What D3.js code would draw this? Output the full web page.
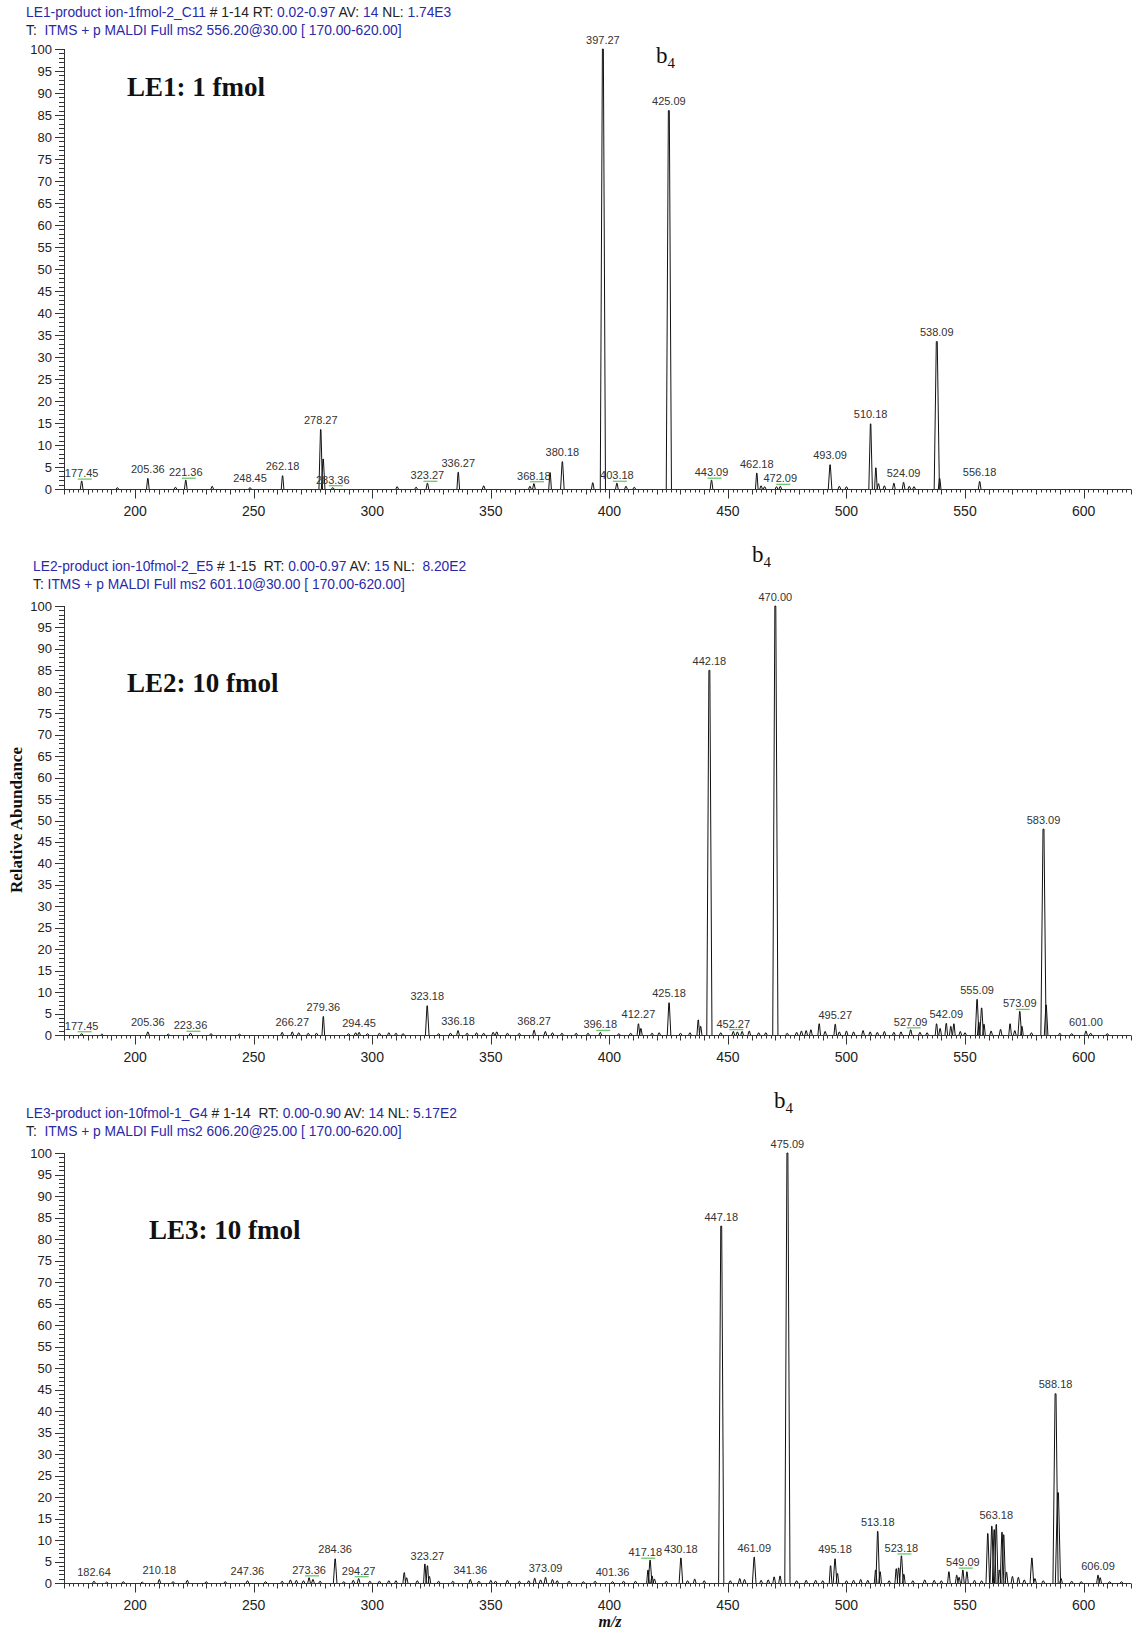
<!DOCTYPE html>
<html>
<head>
<meta charset="utf-8">
<script src="https://cdn.jsdelivr.net/npm/d3@7"></script>
<style>
  html, body { margin: 0; padding: 0; background: #fff; }
  svg { display: block; }
</style>
</head>
<body>
<div id="chart"></div>
<script>
// --- data ---
// each peak: [m/z, relative abundance, label flag (0 none, 1 label, 2 label + green marker)]
const peaksLE1 = [
  [177.45, 1.8, 2], [192.5, 0.3, 0], [205.36, 2.4, 1], [217.0, 0.4, 0], [221.36, 2.0, 2],
  [232.5, 0.6, 0], [248.45, 0.3, 1], [262.18, 3.0, 1], [278.27, 13.5, 1], [279.3, 6.8, 0],
  [283.36, 0.3, 2], [310.5, 0.5, 0], [318.5, 0.4, 0], [323.27, 1.3, 2], [336.27, 3.8, 1],
  [347.0, 0.7, 0], [366.5, 0.6, 0], [368.18, 1.2, 2], [375.0, 3.7, 0], [380.18, 6.2, 1],
  [393.0, 1.4, 0], [397.27, 100, 1], [403.18, 1.3, 2], [407.0, 0.6, 0], [410.5, 0.4, 0],
  [425.09, 86, 1], [443.09, 2.0, 2], [462.18, 3.6, 1], [464.0, 0.7, 0], [465.5, 0.5, 0],
  [470.5, 0.5, 0], [472.09, 0.6, 2], [493.09, 5.5, 1], [497.0, 0.6, 0], [500.0, 0.5, 0],
  [510.18, 14.8, 1], [512.4, 4.8, 0], [513.5, 1.2, 0], [516.0, 0.7, 0], [520.0, 1.3, 0],
  [524.09, 1.5, 1], [526.5, 0.6, 0], [528.5, 0.5, 0], [538.09, 33.5, 1], [539.3, 2.4, 0],
  [556.18, 1.7, 1]
];

const peaksLE2 = [
  [177.45, 0.3, 2], [186, 0.2, 0], [205.36, 0.7, 1], [214, 0.2, 0], [223.36, 0.4, 2],
  [232, 0.3, 0], [244, 0.2, 0], [262, 0.6, 0], [266.27, 0.7, 1], [269, 0.5, 0],
  [273, 0.4, 0], [276.5, 0.4, 0], [279.36, 4.3, 1], [290, 0.3, 0], [293, 0.5, 0],
  [294.45, 0.6, 1], [298, 0.3, 0], [303, 0.4, 0], [307, 0.5, 0], [310, 0.4, 0],
  [313, 0.3, 0], [323.18, 6.8, 1], [328, 0.3, 0], [333, 0.4, 0], [336.18, 1.0, 1],
  [340, 0.4, 0], [344, 0.5, 0], [347, 0.4, 0], [351, 0.6, 0], [352.5, 0.7, 0],
  [357, 0.4, 0], [362, 0.4, 0], [368.27, 1.1, 1], [373, 0.8, 0], [376, 0.5, 0],
  [380, 0.4, 0], [386, 0.4, 0], [391, 0.4, 0], [396.18, 0.6, 2], [404, 0.3, 0],
  [409, 0.4, 0], [412.27, 2.6, 1], [413.3, 1.5, 0], [418, 0.4, 0], [421, 0.5, 0],
  [425.18, 7.5, 1], [430, 0.4, 0], [434, 0.5, 0], [437.5, 3.5, 0], [438.5, 2.0, 0],
  [442.18, 85, 1], [447, 0.5, 0], [452.27, 0.8, 2], [454, 0.7, 0], [456, 0.8, 0],
  [459, 0.9, 0], [463, 0.5, 0], [466, 0.5, 0], [470.00, 100, 1], [475, 0.4, 0],
  [479, 0.6, 0], [481, 0.9, 0], [483, 1.0, 0], [485, 1.2, 0], [488.5, 2.6, 0],
  [491, 0.8, 0], [495.27, 2.5, 1], [497, 0.7, 0], [500, 0.9, 0], [503, 0.7, 0],
  [507, 1.0, 0], [510, 0.7, 0], [513, 0.6, 0], [516, 0.8, 0], [520, 0.6, 0],
  [523, 0.7, 0], [527.09, 1.2, 2], [531, 0.6, 0], [534, 0.5, 0], [538, 2.6, 0],
  [539.5, 1.5, 0], [542.09, 2.7, 1], [544, 2.0, 0], [545.3, 2.6, 0], [548, 0.8, 0],
  [550, 0.5, 0], [555.09, 8.3, 1], [555.8, 3.0, 0], [557, 6.3, 0], [558, 2.5, 0],
  [561, 0.9, 0], [565, 1.3, 0], [569, 2.6, 0], [571, 1.0, 0], [573.09, 5.5, 2],
  [574, 2.0, 0], [578, 0.5, 0], [583.09, 48, 1], [584.2, 7.0, 0], [590, 0.4, 0],
  [595, 0.3, 0], [601.00, 0.9, 1], [603, 0.4, 0], [610, 0.3, 0]
];

const peaksLE3 = [
  [182.64, 0.4, 1], [188, 0.2, 0], [195, 0.3, 0], [203, 0.2, 0], [210.18, 0.8, 1],
  [216, 0.3, 0], [222, 0.6, 0], [230, 0.3, 0], [238, 0.3, 0], [247.36, 0.5, 1],
  [255, 0.3, 0], [262, 0.4, 0], [265.5, 0.7, 0], [268, 0.6, 0], [271, 0.5, 0],
  [273.36, 1.2, 2], [275, 0.8, 0], [278, 0.4, 0], [284.36, 5.6, 1], [288, 0.3, 0],
  [292, 0.6, 0], [294.27, 1.0, 2], [299, 0.4, 0], [303, 0.4, 0], [307, 0.5, 0],
  [310, 0.5, 0], [313.5, 2.4, 0], [314.5, 1.2, 0], [319, 0.5, 0], [322.2, 4.4, 0],
  [323.27, 4.0, 1], [324.1, 1.5, 0], [328, 0.4, 0], [334, 0.4, 0], [341.36, 0.8, 1],
  [345, 0.4, 0], [350, 0.6, 0], [352, 0.4, 0], [357, 0.6, 0], [362, 0.4, 0],
  [366, 0.5, 0], [368.5, 1.1, 0], [371, 0.7, 0], [373.09, 1.3, 1], [376, 0.8, 0],
  [378, 0.5, 0], [383, 0.4, 0], [389, 0.3, 0], [394, 0.4, 0], [401.36, 0.3, 1],
  [406, 0.4, 0], [411, 0.4, 0], [416.3, 3.0, 0], [417.18, 5.3, 2], [418, 1.6, 0],
  [419, 0.9, 0], [424, 0.4, 0], [430.18, 5.8, 1], [433, 0.5, 0], [436, 0.9, 0],
  [440, 0.5, 0], [447.18, 83, 1], [451, 0.5, 0], [455, 1.0, 0], [457, 0.8, 0],
  [461.09, 6.0, 1], [464, 0.6, 0], [467, 0.7, 0], [469.5, 1.4, 0], [472, 1.6, 0],
  [475.09, 100, 1], [479, 0.5, 0], [483, 0.6, 0], [487, 0.6, 0], [490, 0.5, 0],
  [493.3, 4.0, 0], [495.18, 5.6, 1], [496.2, 2.2, 0], [500, 0.5, 0], [503, 0.6, 0],
  [506, 0.8, 0], [509, 0.6, 0], [512.3, 3.0, 0], [513.18, 12.0, 1], [514.2, 2.6, 0],
  [518, 0.5, 0], [521.0, 3.3, 0], [522.0, 3.5, 0], [523.18, 6.3, 2], [524.2, 2.0, 0],
  [528, 0.5, 0], [533, 0.7, 0], [537, 0.6, 0], [540, 0.5, 0], [543.2, 2.6, 0],
  [546.5, 1.8, 0], [547.5, 1.3, 0], [549.09, 3.0, 2], [550.8, 2.6, 0], [554, 0.6, 0],
  [557, 0.5, 0], [559.6, 11.5, 0], [561.3, 13.2, 0], [562.3, 12.4, 0], [563.18, 13.6, 1],
  [564.5, 3.0, 0], [565.6, 11.8, 0], [566.3, 11.2, 0], [567.5, 2.5, 0], [570, 1.5, 0],
  [572.5, 1.3, 0], [575, 0.7, 0], [578.2, 5.8, 0], [579.5, 1.0, 0], [583, 0.5, 0],
  [588.18, 44, 1], [589.2, 21, 0], [590.5, 1.0, 0], [595, 0.4, 0], [599, 0.3, 0],
  [606.09, 1.8, 1], [607.0, 1.2, 0], [611, 0.3, 0], [616, 0.3, 0]
];

// header lines, as [text, isValue] pieces (values are blue in Xcalibur)
const headersLE1 = [
  [["LE1-product ion-1fmol-2_C11", 1], [" # 1-14 ", 0], ["RT: ", 0], ["0.02-0.97", 1], [" AV: ", 0], ["14", 1], [" NL: ", 0], ["1.74E3", 1]],
  [["T: ", 0], [" ITMS + p MALDI Full ms2 556.20@30.00 [ 170.00-620.00]", 1]]
];
const headersLE2 = [
  [["LE2-product ion-10fmol-2_E5", 1], [" # 1-15 ", 0], [" RT: ", 0], ["0.00-0.97", 1], [" AV: ", 0], ["15", 1], [" NL: ", 0], [" 8.20E2", 1]],
  [["T: ", 0], ["ITMS + p MALDI Full ms2 601.10@30.00 [ 170.00-620.00]", 1]]
];
const headersLE3 = [
  [["LE3-product ion-10fmol-1_G4", 1], [" # 1-14 ", 0], [" RT: ", 0], ["0.00-0.90", 1], [" AV: ", 0], ["14", 1], [" NL: ", 0], ["5.17E2", 1]],
  [["T: ", 0], [" ITMS + p MALDI Full ms2 606.20@25.00 [ 170.00-620.00]", 1]]
];

const panelTitles = ["LE1: 1 fmol", "LE2: 10 fmol", "LE3: 10 fmol"];
const xDomain = [170, 620];
const yDomain = [0, 100];
const xTickValues = [200, 250, 300, 350, 400, 450, 500, 550, 600];
const yTickValues = d3.range(0, 101, 5);

// --- layout ---
const width = 1132, height = 1633;
const plotLeft = 64, plotRight = 1131;

const panels = [
  { peaks: peaksLE1, headers: headersLE1, title: panelTitles[0], top: 49, bottom: 489,
    headX: 26, headY: 17, titleX: 127, titleY: 96, b4X: 656, b4Y: 63 },
  { peaks: peaksLE2, headers: headersLE2, title: panelTitles[1], top: 606, bottom: 1035,
    headX: 33, headY: 571, titleX: 127, titleY: 692, b4X: 752, b4Y: 562 },
  { peaks: peaksLE3, headers: headersLE3, title: panelTitles[2], top: 1153, bottom: 1583,
    headX: 26, headY: 1118, titleX: 149, titleY: 1239, b4X: 774, b4Y: 1108 }
];

const svg = d3.select("#chart").append("svg")
  .attr("width", width)
  .attr("height", height)
  .attr("viewBox", `0 0 ${width} ${height}`);

const x = d3.scaleLinear().domain(xDomain).range([plotLeft, plotRight]);

const sans = "'Liberation Sans', Arial, sans-serif";
const serif = "'Liberation Serif', 'Times New Roman', serif";

panels.forEach(p => {
  const y = d3.scaleLinear().domain(yDomain).range([p.bottom, p.top]);
  const g = svg.append("g");

  // header text (two lines)
  p.headers.forEach((line, i) => {
    const t = g.append("text")
      .attr("x", p.headX)
      .attr("y", p.headY + i * 18)
      .attr("font-family", sans)
      .attr("font-size", 13.8)
      .style("white-space", "pre");
    line.forEach(([txt, isVal]) => {
      t.append("tspan").attr("fill", isVal ? "#2a2aa8" : "#222").text(txt);
    });
  });

  // y axis: minor ticks every 1, major every 5
  const yAxis = g.append("g").attr("stroke", "#333").attr("stroke-width", 1);
  yAxis.append("line")
    .attr("x1", plotLeft + 0.5).attr("x2", plotLeft + 0.5)
    .attr("y1", y(100)).attr("y2", y(0));
  yAxis.selectAll("line.minor")
    .data(d3.range(0, 101, 1))
    .join("line")
    .attr("class", "minor")
    .attr("x1", d => d % 5 === 0 ? plotLeft - 9 : plotLeft - 5)
    .attr("x2", plotLeft)
    .attr("y1", d => Math.round(y(d)) + 0.5)
    .attr("y2", d => Math.round(y(d)) + 0.5);

  g.selectAll("text.ytick")
    .data(yTickValues)
    .join("text")
    .attr("class", "ytick")
    .attr("x", plotLeft - 12)
    .attr("y", d => y(d) + 4.5)
    .attr("text-anchor", "end")
    .attr("font-family", sans)
    .attr("font-size", 13)
    .attr("fill", "#222")
    .text(d => d);

  // x axis: minor every 2, medium every 10, major every 50
  const xAxis = g.append("g").attr("stroke", "#333").attr("stroke-width", 1);
  const yb = Math.round(y(0)) + 0.5;
  xAxis.append("line")
    .attr("x1", plotLeft).attr("x2", plotRight)
    .attr("y1", yb).attr("y2", yb);
  xAxis.selectAll("line.xt")
    .data(d3.range(170, 621, 2))
    .join("line")
    .attr("class", "xt")
    .attr("x1", d => Math.round(x(d)) + 0.5)
    .attr("x2", d => Math.round(x(d)) + 0.5)
    .attr("y1", yb)
    .attr("y2", d => yb + (d % 50 === 0 ? 9 : d % 10 === 0 ? 5 : 3));

  g.selectAll("text.xtick")
    .data(xTickValues)
    .join("text")
    .attr("class", "xtick")
    .attr("x", d => x(d))
    .attr("y", yb + 26)
    .attr("text-anchor", "middle")
    .attr("font-family", sans)
    .attr("font-size", 14)
    .attr("fill", "#222")
    .text(d => d);

  // spectrum peaks, each one drawn as a narrow profile (wider base for tall peaks)
  const line = d3.line().x(d => x(d[0])).y(d => y(d[1]));
  g.append("g")
    .selectAll("path")
    .data(p.peaks)
    .join("path")
    .attr("fill", "none")
    .attr("stroke", "#111")
    .attr("stroke-width", 1)
    .attr("stroke-linejoin", "round")
    .attr("d", d => {
      const w = d[1] > 20 ? 1.1 : d[1] > 5 ? 0.75 : 0.55;
      const tw = d[1] > 20 ? 0.2 : 0.1;
      return line([[d[0] - w, 0], [d[0] - tw, d[1]], [d[0] + tw, d[1]], [d[0] + w, 0]]);
    });

  // peak labels
  const labelled = p.peaks.filter(d => d[2] > 0).map(d => ({
    mz: d[0], h: d[1], flag: d[2], cx: x(d[0]),
    by: y(d[1]) - (d[2] === 2 ? 4 : 5.5)
  }));

  const labels = g.selectAll("text.peak")
    .data(labelled)
    .join("text")
    .attr("class", "peak")
    .attr("x", d => d.cx)
    .attr("y", d => d.by)
    .attr("text-anchor", "middle")
    .attr("font-family", sans)
    .attr("font-size", 11)
    .attr("fill", "#333")
    .text(d => d.mz.toFixed(2));

  // flagged labels get pushed left when they collide with a neighbour (like Xcalibur)
  labels.each(function (d) { d.w = this.getComputedTextLength(); });
  labelled.filter(d => d.flag === 2).forEach(d => {
    labelled.forEach(o => {
      if (o === d || o.cx <= d.cx) return;
      const overlapX = (d.cx + d.w / 2 + 2) - (o.cx - o.w / 2);
      const overlapY = Math.abs(o.by - d.by) < 11;
      if (overlapX > 0 && overlapY) d.cx -= overlapX;
    });
  });
  labels.attr("x", d => d.cx);

  // green marker lines linking a flagged label to its peak
  g.selectAll("line.flag")
    .data(labelled.filter(d => d.flag === 2))
    .join("line")
    .attr("class", "flag")
    .attr("stroke", "#6cc86c")
    .attr("stroke-width", 1.3)
    .attr("x1", d => Math.min(d.cx - 4, x(d.mz)))
    .attr("x2", d => Math.max(x(d.mz), d.cx + 10) - (d.cx < x(d.mz) - 5 ? 10 : 0))
    .attr("y1", d => d.by + 2)
    .attr("y2", d => d.by + 2);

  // sample title
  g.append("text")
    .attr("x", p.titleX)
    .attr("y", p.titleY)
    .attr("font-family", serif)
    .attr("font-weight", "bold")
    .attr("font-size", 27)
    .attr("fill", "#111")
    .text(p.title);

  // b4 fragment annotation
  const b4 = g.append("text")
    .attr("x", p.b4X)
    .attr("y", p.b4Y)
    .attr("font-family", serif)
    .attr("font-size", 23)
    .attr("fill", "#111");
  b4.append("tspan").text("b");
  b4.append("tspan").attr("font-size", 15).attr("dy", 5).text("4");
});

// shared axis titles
svg.append("text")
  .attr("transform", "translate(22,820) rotate(-90)")
  .attr("text-anchor", "middle")
  .attr("font-family", serif)
  .attr("font-weight", "bold")
  .attr("font-size", 17)
  .attr("fill", "#111")
  .text("Relative Abundance");

svg.append("text")
  .attr("x", 610)
  .attr("y", 1627)
  .attr("text-anchor", "middle")
  .attr("font-family", serif)
  .attr("font-weight", "bold")
  .attr("font-style", "italic")
  .attr("font-size", 16)
  .attr("fill", "#111")
  .text("m/z");
</script>
</body>
</html>
